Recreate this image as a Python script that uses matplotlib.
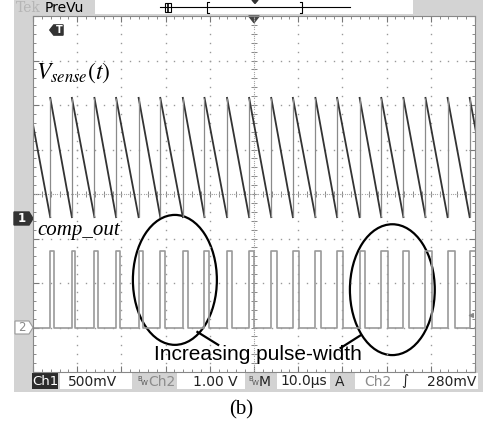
import matplotlib.pyplot as plt
from matplotlib.patches import Rectangle, Ellipse, Polygon
import numpy as np

W, H = 483, 424

# scope settings (10 us/div, trigger at the centre of the screen)
ch1_volts_div = 0.5
ch2_volts_div = 1.0
ch1_ground_div = 3.44
ch2_ground_div = 0.99
trig_level_v = 0.28

# switching instants and comp_out pulse widths (us)
rise_us = [-46.1, -41.2, -36.1, -31.2, -26.1, -21.2, -16.1, -11.2, -6.1, -1.1,
           3.9, 8.8, 13.9, 18.8, 23.9, 28.8, 33.8, 38.8, 43.8, 48.8]
width_us = [0.77, 0.77, 0.90, 0.90, 1.06, 1.06, 1.13, 1.13, 1.20, 1.13,
            1.29, 1.29, 1.36, 1.43, 1.29, 1.51, 1.36, 1.51, 1.65, 1.51]

# levels (V)
ramp_peak_v = 1.36
ramp_valley_v = 0.02
ramp_start_v = 1.06      # value of the partial ramp at the left screen edge
pulse_high_v = 1.74
pulse_low_v = 0.0

grey_bg = '#d3d3d3'
plt.rcParams['mathtext.fontset'] = 'stix'

fig = plt.figure(figsize=(W / 100, H / 100), dpi=100)
fig.patch.set_facecolor('white')

# ---- background / chrome in pixel coordinates ----
bg = fig.add_axes([0, 0, 1, 1], zorder=0)
bg.set_xlim(0, W)
bg.set_ylim(H, 0)
bg.axis('off')
bg.add_patch(Rectangle((14, 0), W - 14, 392, color=grey_bg, lw=0))

# top bar: Tek PreVu and record slider
bg.text(16, 8, 'Tek', color='#b5b5b5', fontsize=10, va='center', family='DejaVu Serif')
bg.text(45, 8, 'PreVu', color='black', fontsize=10, va='center', family='DejaVu Sans')
bg.add_patch(Rectangle((95, 0), 318, 14, facecolor='white', edgecolor='none'))
bg.plot([160, 350], [7, 7], color='black', lw=0.8)
bg.add_patch(Rectangle((165, 3), 6, 9, facecolor='white', edgecolor='black', lw=0.8))
bg.plot([168, 168], [3.5, 11.5], color='black', lw=1.2)
bg.plot([209, 207, 207, 209], [2, 2, 13, 13], color='black', lw=0.8)
bg.plot([300, 302, 302, 300], [2, 2, 13, 13], color='black', lw=0.8)
bg.add_patch(Polygon([(252, 0), (258, 0), (255, 3.5)], color='#333'))

# channel ground markers
bg.add_patch(Polygon([(14, 212), (29, 212), (33, 218.5), (29, 225), (14, 225)], color='#333'))
bg.text(21.5, 218.5, '1', color='white', fontsize=8.5, fontweight='bold', ha='center', va='center')
bg.add_patch(Polygon([(15, 321), (29, 321), (33, 327.5), (29, 334), (15, 334)],
                     facecolor='white', edgecolor='#9a9a9a', lw=0.8))
bg.text(22, 327.5, '2', color='#8a8a8a', fontsize=8.5, ha='center', va='center')

# status bar
bg.add_patch(Rectangle((32, 373), 26, 16, color='#2b2b2b', lw=0))
bg.text(45, 381.5, 'Ch1', color='white', fontsize=9.5, ha='center', va='center')
for x0, w in [(60, 72), (177, 68), (277, 53), (355, 123)]:
    bg.add_patch(Rectangle((x0, 373), w, 16, color='white', lw=0))
bg.text(68, 381.5, '500mV', fontsize=10, va='center', color='#222')
bg.text(137, 379, 'B', fontsize=5, va='center', color='#555')
bg.text(141, 383, 'W', fontsize=5, va='center', color='#555')
bg.text(148, 381.5, 'Ch2', fontsize=10, va='center', color='#8c8c8c')
bg.text(193, 381.5, '1.00 V', fontsize=10, va='center', color='#222')
bg.text(248, 379, 'B', fontsize=5, va='center', color='#555')
bg.text(252, 383, 'W', fontsize=5, va='center', color='#555')
bg.text(259, 381.5, 'M', fontsize=10, va='center', color='#222')
bg.text(280, 381.5, '10.0\u00b5s', fontsize=10, va='center', color='#222')
bg.text(335, 381.5, 'A', fontsize=10, va='center', color='#222')
bg.text(364, 381.5, 'Ch2', fontsize=10, va='center', color='#8c8c8c')
bg.text(401, 381.5, '\u222b', fontsize=10, va='center', color='#222', fontstyle='italic')
bg.text(427, 381.5, '280mV', fontsize=10, va='center', color='#222')

bg.text(241, 414, '(b)', fontsize=15, ha='center', va='baseline', family='Liberation Serif')

# ---- oscilloscope screen ----
ax = fig.add_axes([33 / W, 1 - 372 / H, 442 / W, 356 / H], zorder=1)
ax.set_facecolor('white')
ax.set_xlim(-50, 50)
ax.set_ylim(0, 8)
ax.set_xticks(np.arange(-50, 51, 10))
ax.set_xticks(np.arange(-50, 51, 2), minor=True)
ax.set_yticks(np.arange(0, 8.1, 1))
ax.set_yticks(np.arange(0, 8.1, 0.2), minor=True)
ax.tick_params(which='both', direction='in', top=True, right=True,
               labelbottom=False, labelleft=False, color='#777')
ax.tick_params(which='major', length=4, width=0.8)
ax.tick_params(which='minor', length=2.5, width=0.6)
for s in ax.spines.values():
    s.set_color('#888')
    s.set_linewidth(0.8)

# graticule dots
dot_y = np.arange(0, 8.01, 0.2)
dot_x = np.arange(-50, 50.1, 2)
for xd in range(-40, 50, 10):
    ax.plot(np.full_like(dot_y, xd), dot_y, ls='none', marker='s', ms=1.0,
            mfc='#999', mec='none')
for yd in range(1, 8):
    ax.plot(dot_x, np.full_like(dot_x, yd), ls='none', marker='s', ms=1.0,
            mfc='#999', mec='none')
# centre lines with fine ticks
ax.plot(dot_x, np.full_like(dot_x, 4), ls='none', marker='|', ms=4, mew=0.7, color='#888')
ax.plot(np.full_like(dot_y, 0), dot_y, ls='none', marker='_', ms=4, mew=0.7, color='#888')
ax.plot(np.arange(-50, 50.1, 0.5), np.full(201, 4.0), ls='none', marker='s', ms=0.8,
        mfc='#aaa', mec='none')
ax.plot(np.full(161, 0.0), np.arange(0, 8.01, 0.05), ls='none', marker='s', ms=0.8,
        mfc='#aaa', mec='none')


# V_sense sawtooth (ch1)
def v1(v):
    return ch1_ground_div + v / ch1_volts_div


ends = rise_us + [rise_us[-1] + (rise_us[-1] - rise_us[-2])]
ax.plot([-50, rise_us[0]], [v1(ramp_start_v), v1(ramp_valley_v)], color='#333', lw=1.3)
for i, t0 in enumerate(rise_us):
    ax.plot([t0, ends[i + 1]], [v1(ramp_peak_v), v1(ramp_valley_v)], color='#333', lw=1.3)
ax.vlines(rise_us, v1(ramp_valley_v), v1(ramp_peak_v), color='#8a8a8a', lw=0.9)


# comp_out pulse train (ch2)
def v2(v):
    return ch2_ground_div + v / ch2_volts_div


pt, pv = [-50], [pulse_low_v]
for t0, w in zip(rise_us, width_us):
    pt += [t0, t0, t0 + w, t0 + w]
    pv += [pulse_low_v, pulse_high_v, pulse_high_v, pulse_low_v]
pt.append(50)
pv.append(pulse_low_v)
ax.plot(pt, v2(np.array(pv)), color='#9a9a9a', lw=1.2)

# trigger level arrow at the right edge, trigger position at the top
ax.annotate('', xy=(47.8, v2(trig_level_v)), xytext=(50, v2(trig_level_v)),
            arrowprops=dict(arrowstyle='-|>', color='#888', lw=0.9, mutation_scale=7))
ax.add_patch(Polygon([(-1.2, 8), (1.2, 8), (0, 7.85)], color='#444', clip_on=False))
ax.add_patch(Polygon([(-45.3, 7.8), (-43.2, 7.8), (-43.2, 7.57), (-45.3, 7.57), (-46.2, 7.685)],
                     color='#333'))
ax.text(-44.1, 7.685, 'T', color='white', fontsize=7, fontweight='bold', ha='center', va='center')

# annotations
ax.text(-49.3, 6.6, r'$V_{sense}(t)$', fontsize=17, color='black', va='baseline')
ax.text(-49, 3.07, 'comp_out', fontsize=15, color='black', va='baseline',
        family='Liberation Serif', fontstyle='italic')
ax.add_patch(Ellipse((-17.9, 2.07), 19.0, 2.92, fill=False, ec='black', lw=1.6))
ax.add_patch(Ellipse((31.3, 1.85), 19.2, 2.94, fill=False, ec='black', lw=1.6))
ax.plot([-12.8, -8.1], [0.90, 0.61], color='black', lw=1.6)
ax.plot([24.2, 19.6], [0.83, 0.54], color='black', lw=1.6)
ax.text(0.9, 0.27, 'Increasing pulse-width', fontsize=15, ha='center', va='baseline',
        family='Liberation Sans', color='black')

fig.savefig('out.png', dpi=100)
